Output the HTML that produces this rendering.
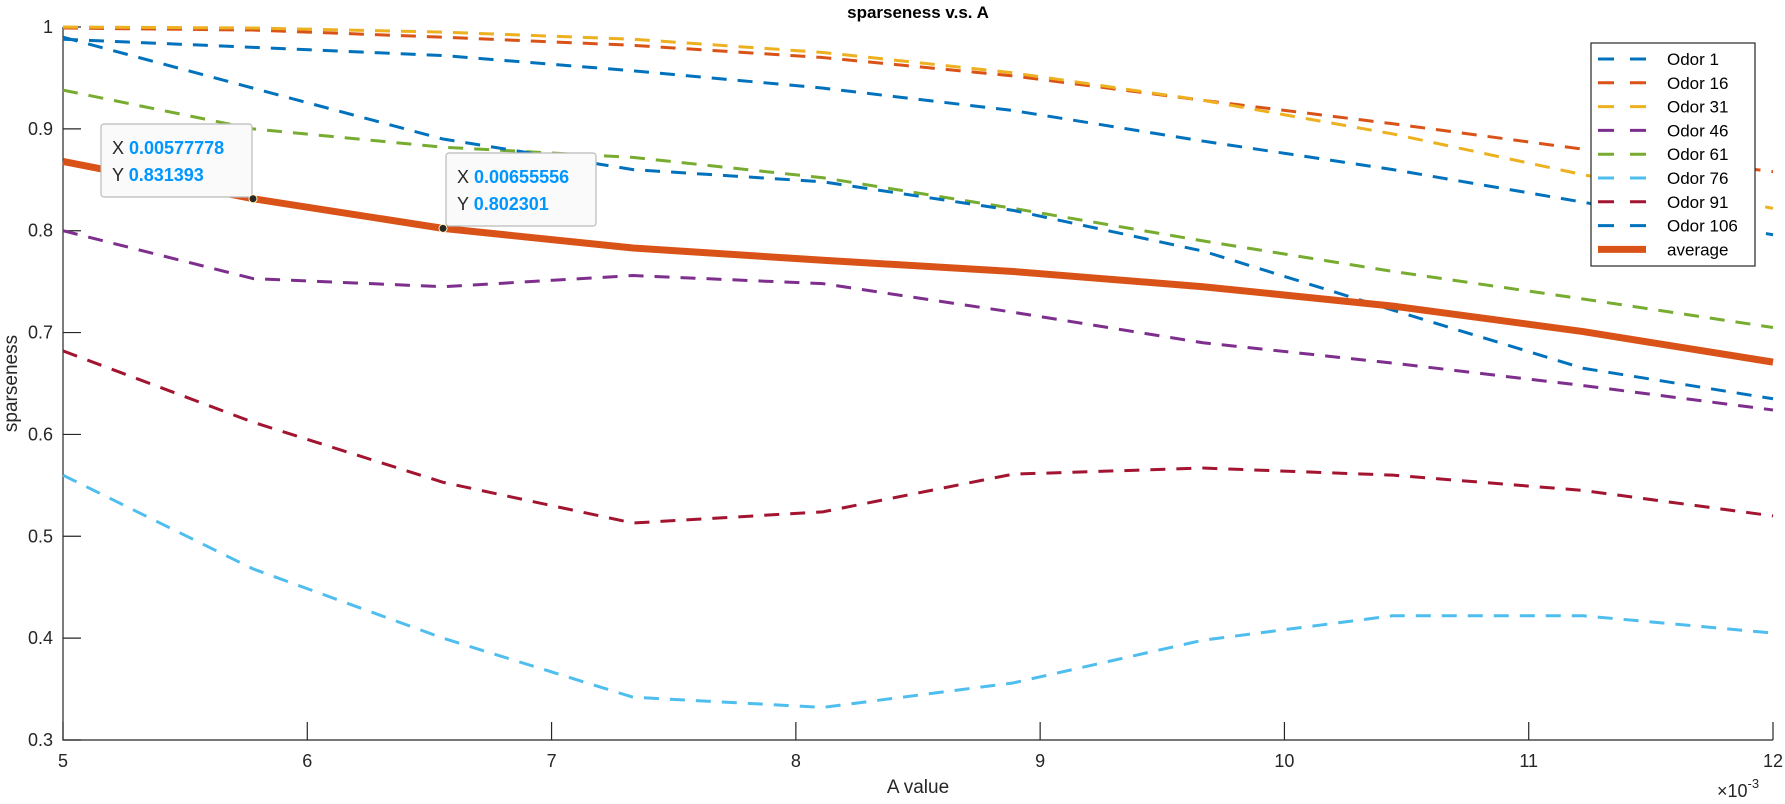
<!DOCTYPE html>
<html><head><meta charset="utf-8"><style>
body{margin:0;background:#fff;}
svg{display:block;font-family:"Liberation Sans",sans-serif;}
</style></head><body>
<svg id="c" width="1785" height="804"></svg>
<script>
const xs=[5,5.77778,6.55556,7.33333,8.11111,8.88889,9.66667,10.44444,11.22222,12];
const odor1=[0.988,0.980,0.972,0.957,0.940,0.918,0.888,0.860,0.828,0.796];
const odor16=[0.999,0.997,0.990,0.982,0.970,0.952,0.928,0.905,0.880,0.858];
const odor31=[1.0,0.999,0.995,0.988,0.975,0.955,0.928,0.895,0.855,0.822];
const odor46=[0.800,0.753,0.745,0.756,0.748,0.720,0.690,0.670,0.648,0.624];
const odor61=[0.938,0.900,0.882,0.872,0.852,0.822,0.790,0.760,0.733,0.705];
const odor76=[0.560,0.468,0.400,0.342,0.332,0.356,0.398,0.422,0.422,0.405];
const odor91=[0.682,0.612,0.553,0.513,0.524,0.561,0.567,0.560,0.545,0.520];
const odor106=[0.990,0.940,0.890,0.860,0.848,0.820,0.780,0.722,0.665,0.635];
const average=[0.868,0.831393,0.802301,0.783,0.771,0.760,0.745,0.726,0.701,0.671];
const xTicks=[5,6,7,8,9,10,11,12];
const yTicks=[0.3,0.4,0.5,0.6,0.7,0.8,0.9,1];
const seriesNames=["Odor 1","Odor 16","Odor 31","Odor 46","Odor 61","Odor 76","Odor 91","Odor 106","average"];

const L=63,R=1773,T=27,B=740;
const X=v=>L+(v-5)/7*(R-L);
const Y=v=>B-(v-0.3)/0.7*(B-T);
const svg=document.getElementById('c');
const NS="http://www.w3.org/2000/svg";
function mk(t,a,p){const e=document.createElementNS(NS,t);for(const k in a)e.setAttribute(k,a[k]);(p||svg).appendChild(e);return e;}
function pts(vals){return xs.map((x,i)=>X(x)+','+Y(vals[i])).join(' ');}
const ax=mk('path',{d:`M${L},${T}V${B}H${R}`,fill:'none',stroke:'#262626','stroke-width':1.2});


xTicks.forEach(t=>{
  mk('line',{x1:X(t),x2:X(t),y1:B,y2:B-18,stroke:'#262626','stroke-width':1.2});
  const tx=mk('text',{x:X(t),y:B+27,'text-anchor':'middle','font-size':18,fill:'#262626'});tx.textContent=t;
  
  
});
yTicks.forEach(t=>{
  mk('line',{x1:L,x2:L+18,y1:Y(t),y2:Y(t),stroke:'#262626','stroke-width':1.2});
  const tx=mk('text',{x:L-10,y:Y(t)+6,'text-anchor':'end','font-size':18,fill:'#262626'});tx.textContent=(t===1?'1':t.toFixed(1));
  
  
});
const series=[odor1,odor16,odor31,odor46,odor61,odor76,odor91,odor106,average];
const colors=['#0072BD','#D95319','#EDB120','#7E2F8E','#77AC30','#4DBEEE','#A2142F','#0072BD','#D95319'];
series.forEach((s,i)=>{
  const avg=i===8;
  const p=mk('polyline',{points:pts(s),fill:'none',stroke:colors[i],'stroke-width':avg?7:3,'stroke-dasharray':avg?'none':'15,11','stroke-linejoin':'round'});
  
  
});
[[1,101,124,151],[2,446,153,150]].forEach(([i,bx,by,w])=>{
  const g=mk('g',{});
  
  
  mk('rect',{x:bx,y:by,width:w,height:73,fill:'#fafafa',stroke:'#bbb','stroke-width':1.2,rx:3},g);
  const t1=mk('text',{x:bx+11,y:by+30,'font-size':18,fill:'#262626'},g);
  t1.innerHTML='X <tspan font-weight="bold" fill="#0096ff">'+(xs[i]/1000).toFixed(8)+'</tspan>';
  const t2=mk('text',{x:bx+11,y:by+57,'font-size':18,fill:'#262626'},g);
  t2.innerHTML='Y <tspan font-weight="bold" fill="#0096ff">'+average[i].toFixed(6)+'</tspan>';
  mk('circle',{cx:X(xs[i]),cy:Y(average[i]),r:4,fill:'#262626',stroke:'#fff5c0','stroke-width':1},g);
});
const lg=mk('g',{});


mk('rect',{x:1591,y:43,width:164,height:223,fill:'#fff',stroke:'#262626','stroke-width':1.2},lg);
seriesNames.forEach((n,i)=>{
  const y=59+i*23.8;
  const e=mk('g',{},lg);
  
  
  mk('line',{x1:1598,x2:1646,y1:y,y2:y,stroke:colors[i],'stroke-width':i===8?7:3,'stroke-dasharray':i===8?'none':'16,16'},e);
  const t=mk('text',{x:1667,y:y+6,'font-size':17,fill:'#000'},e);t.textContent=n;
});
const tt=mk('text',{x:(L+R)/2,y:18,'text-anchor':'middle','font-size':17,'font-weight':'bold',fill:'#000'});tt.textContent='sparseness v.s. A';

const xl=mk('text',{x:(L+R)/2,y:793,'text-anchor':'middle','font-size':19,fill:'#262626'});xl.textContent='A value';

const yl=mk('text',{x:17,y:(T+B)/2,'text-anchor':'middle','font-size':19,fill:'#262626',transform:`rotate(-90 17 ${(T+B)/2})`});yl.textContent='sparseness';

const ex=mk('text',{x:1717,y:797,'font-size':18,fill:'#262626'});ex.innerHTML='×10<tspan dy="-9" font-size="13">-3</tspan>';

</script>
</body></html>
